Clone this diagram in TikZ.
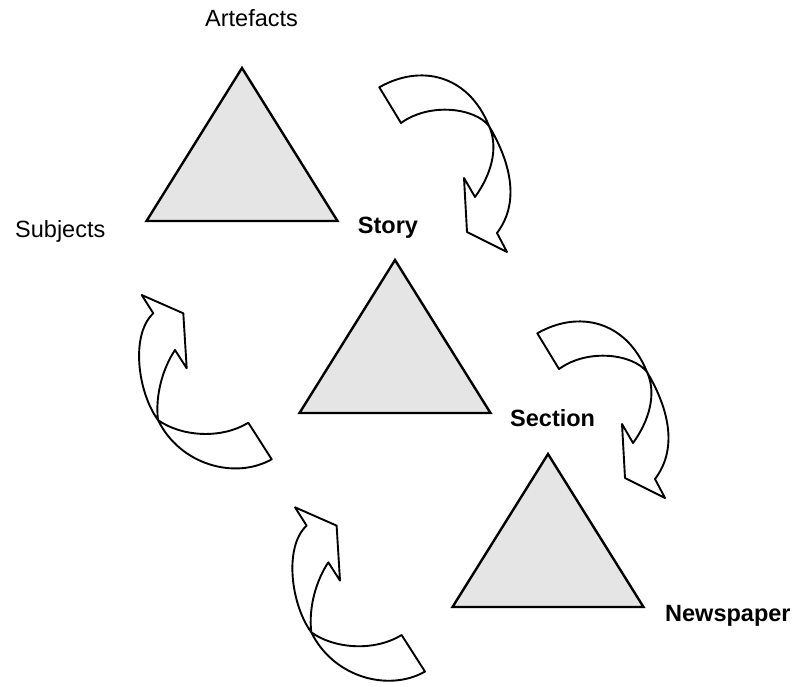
\documentclass[tikz,border=0pt]{standalone}
\usepackage{fontspec}
\setmainfont{Liberation Sans}
\begin{document}
\begin{tikzpicture}[x=1pt, y=-1pt,
  level/.style={draw=black, line width=2.4pt, fill=black!10, line join=miter},
  ribbon/.style={draw=black, line width=1.9pt, fill=white, line join=round},
  tag/.style={font=\fontsize{23.5}{23.5}\selectfont, anchor=base west, inner sep=0pt},
  strong/.style={tag, font=\fontsize{23.5}{23.5}\selectfont\bfseries},
  % a shaded level triangle, placed by its apex
  tri/.pic={\path[level] (0,0) -- (95.5,153) -- (-95.5,153) -- cycle;},
  % twisted arrow turning clockwise and pointing down
  turndown/.pic={
    \path[ribbon] (379.3,87.3) .. controls (420,64) and (468,74) .. (489,126)
      .. controls (508,158) and (522,200) .. (497,233)
      -- (507,252) -- (467,232) -- (464,178) -- (475,197)
      .. controls (491,175) and (499,148) .. (489,126)
      .. controls (475,108) and (430,102) .. (401,123) -- cycle;},
  % twisted arrow turning upward
  turnup/.pic={
    \path[ribbon] (141.7,295) -- (183.3,313.3) -- (186.7,368.3) -- (175,350)
      .. controls (163,368) and (155,395) .. (158,420)
      .. controls (180,436) and (220,440) .. (248.3,422.7)
      -- (271.7,459.3)
      .. controls (235,480) and (180,465) .. (158,420)
      .. controls (138,393) and (130,335) .. (153.3,313.3)
      -- cycle;}
]
\useasboundingbox (0,0) rectangle (794,687);

% the three levels
\pic at (242,68) {tri};
\pic at (395,260) {tri};
\pic at (548,454) {tri};

% arrows between the levels
\pic at (0,0) {turndown};
\pic at (158,246) {turndown};
\pic at (0,0) {turnup};
\pic at (153.3,212.3) {turnup};

% labels
\node[tag] (artefacts) at (205,27) {Artefacts};
\node[tag] (subjects) at (15,237) {Subjects};
\node[strong] (story) at (357.7,233.3) {Story};
\node[strong] (section) at (510,426.7) {Section};
\node[strong] (newspaper) at (665,621.7) {Newspaper};
\end{tikzpicture}
\end{document}
